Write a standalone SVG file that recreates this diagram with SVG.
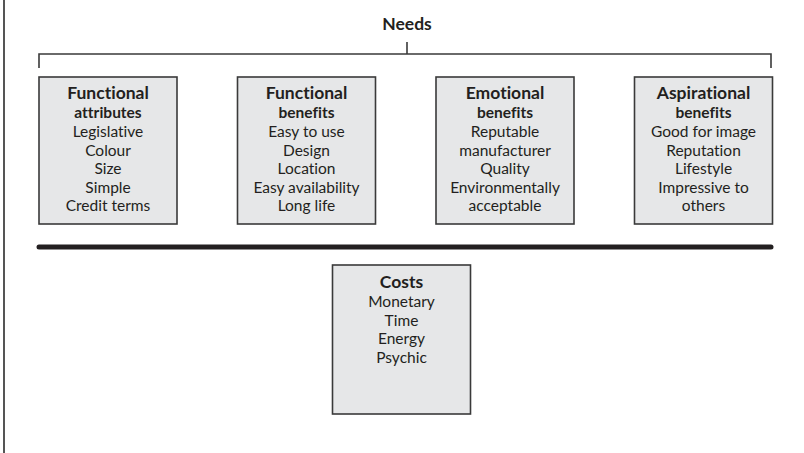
<svg xmlns="http://www.w3.org/2000/svg" width="804" height="453" viewBox="0 0 804 453">
<style>
.box{fill:#e6e7e8;stroke:#3a3a3a;stroke-width:1.6}
.ln{stroke:#3a3a3a;stroke-width:1.6;fill:none}
text{font-family:Lato,"Liberation Sans",sans-serif;fill:#231f20;text-anchor:middle;font-variant-ligatures:none;font-feature-settings:"liga" 0}
.t{font-size:17.5px;font-weight:bold}
.s{font-size:15.5px;font-weight:bold}
.i{font-size:15.5px}
</style>
<rect width="804" height="453" fill="#fff"/>
<line x1="4" y1="0" x2="4" y2="453" stroke="#555" stroke-width="2"/>
<g id="needs"><text class="t" x="407" y="30">Needs</text></g>
<g id="connectors">
<line class="ln" x1="407" y1="42" x2="407" y2="54"/>
<polyline class="ln" points="39,68 39,54 771,54 771,68"/>
<line x1="39" y1="247" x2="771" y2="247" stroke="#231f20" stroke-width="5" stroke-linecap="round"/>
</g>
<g id="functional-attributes">
<rect class="box" x="39" y="77" width="138" height="147"/>
<text class="t" x="108" y="99">Functional</text>
<text class="s" x="108" y="118">attributes</text>
<text class="i" x="108" y="137">Legislative</text>
<text class="i" x="108" y="155.5">Colour</text>
<text class="i" x="108" y="174">Size</text>
<text class="i" x="108" y="192.5">Simple</text>
<text class="i" x="108" y="211">Credit terms</text>
</g>
<g id="functional-benefits">
<rect class="box" x="237.5" y="77" width="138" height="147"/>
<text class="t" x="306.5" y="99">Functional</text>
<text class="s" x="306.5" y="118">benefits</text>
<text class="i" x="306.5" y="137">Easy to use</text>
<text class="i" x="306.5" y="155.5">Design</text>
<text class="i" x="306.5" y="174">Location</text>
<text class="i" x="306.5" y="192.5">Easy availability</text>
<text class="i" x="306.5" y="211">Long life</text>
</g>
<g id="emotional-benefits">
<rect class="box" x="436" y="77" width="138" height="147"/>
<text class="t" x="505" y="99">Emotional</text>
<text class="s" x="505" y="118">benefits</text>
<text class="i" x="505" y="137">Reputable</text>
<text class="i" x="505" y="155.5">manufacturer</text>
<text class="i" x="505" y="174">Quality</text>
<text class="i" x="505" y="192.5">Environmentally</text>
<text class="i" x="505" y="211">acceptable</text>
</g>
<g id="aspirational-benefits">
<rect class="box" x="634.5" y="77" width="138" height="147"/>
<text class="t" x="703.5" y="99">Aspirational</text>
<text class="s" x="703.5" y="118">benefits</text>
<text class="i" x="703.5" y="137">Good for image</text>
<text class="i" x="703.5" y="155.5">Reputation</text>
<text class="i" x="703.5" y="174">Lifestyle</text>
<text class="i" x="703.5" y="192.5">Impressive to</text>
<text class="i" x="703.5" y="211">others</text>
</g>
<g id="costs">
<rect class="box" x="332.5" y="265" width="138" height="149"/>
<text class="t" x="401.5" y="288">Costs</text>
<text class="i" x="401.5" y="307">Monetary</text>
<text class="i" x="401.5" y="325.5">Time</text>
<text class="i" x="401.5" y="344">Energy</text>
<text class="i" x="401.5" y="362.5">Psychic</text>
</g>
</svg>
